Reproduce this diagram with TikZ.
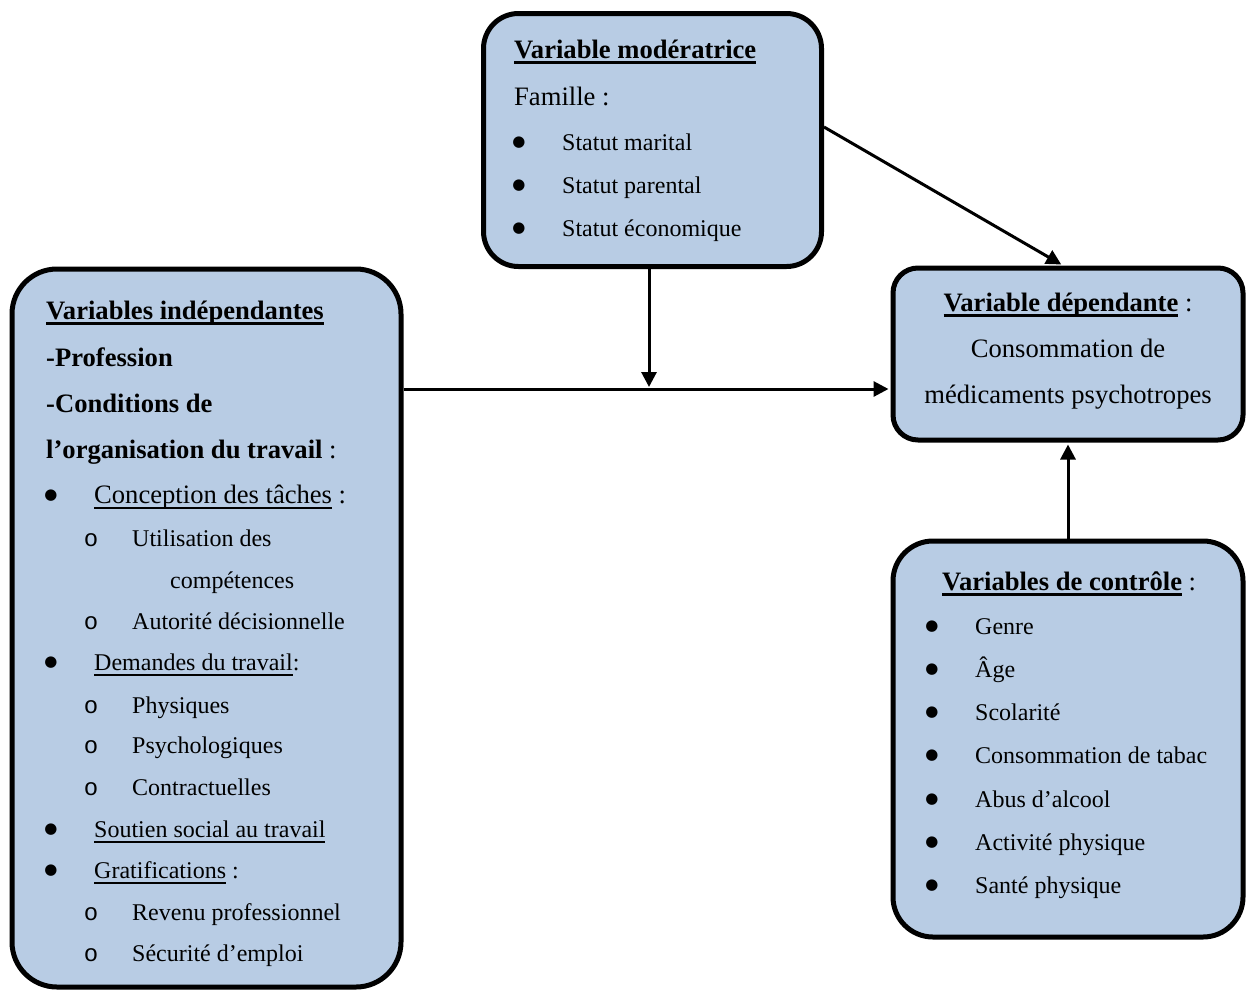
\documentclass[tikz,border=0pt]{standalone}
\usepackage{fontspec}
\setmainfont{Liberation Serif}
\setmonofont{Liberation Mono}
\newfontfamily\dotfont{DejaVu Sans}
\usetikzlibrary{arrows.meta}
\definecolor{boxblue}{RGB}{184,204,228}
\newsavebox{\undlbox}
\newcommand{\undl}[2][1.6pt]{\sbox{\undlbox}{#2}\rlap{\usebox{\undlbox}}\rule[-5.5pt]{\wd\undlbox}{#1}}

\begin{document}
\begin{tikzpicture}[
    x=1pt, y=-1pt,
    box/.style={draw, line width=5pt, fill=boxblue, inner sep=0pt},
    bigtxt/.style={anchor=base west, inner sep=0pt, font=\fontsize{26.6}{30}\selectfont},
    smalltxt/.style={anchor=base west, inner sep=0pt, font=\fontsize{24}{28}\selectfont},
    midtxt/.style={anchor=base, inner sep=0pt, font=\fontsize{26.6}{30}\selectfont},
    dot/.style={anchor=center, inner sep=0pt, yshift=7.5pt, font=\dotfont\fontsize{15}{15}\selectfont},
    circ/.style={anchor=base, inner sep=0pt, font=\fontsize{24}{28}\ttfamily},
    link/.style={line width=3pt, -{Triangle[length=15pt,width=15pt]}, shorten >=2pt}
  ]
  \useasboundingbox (0,0) rectangle (1246,991);
  % the four boxes
  \node[box, rounded corners=35pt, minimum width=338pt, minimum height=253pt] (mod) at (652.5,140) {};
  \node[box, rounded corners=45pt, minimum width=389pt, minimum height=718pt] (indep) at (206.5,628) {};
  \node[box, rounded corners=25pt, minimum width=350pt, minimum height=172pt] (dep) at (1068,354) {};
  \node[box, rounded corners=40pt, minimum width=350pt, minimum height=396pt] (ctrl) at (1068,739) {};

  % moderator
  \node[bigtxt] (modtitle) at (514,58) {\undl[3pt]{\textbf{Variable modératrice}}};
  \node[bigtxt] (modfam) at (514,105) {Famille :};
  \node[dot] (modb1) at (519,150) {●};
  \node[dot] (modb2) at (519,193) {●};
  \node[dot] (modb3) at (519,236) {●};
  \node[smalltxt] (mod1) at (562,150) {Statut marital};
  \node[smalltxt] (mod2) at (562,193) {Statut parental};
  \node[smalltxt] (mod3) at (562,236) {Statut économique};

  % independent variables
  \node[bigtxt] (indtitle) at (46,319) {\undl[3pt]{\textbf{Variables indépendantes}}};
  \node[bigtxt] (ind1) at (46,366) {\textbf{-Profession}};
  \node[bigtxt] (ind2) at (46,412) {\textbf{-Conditions de}};
  \node[bigtxt] (ind3) at (46,458) {\textbf{l’organisation du travail} :};
  \node[dot] (indb1) at (51,503) {●};
  \node[dot] (indb2) at (51,670) {●};
  \node[dot] (indb3) at (51,837) {●};
  \node[dot] (indb4) at (51,878) {●};
  \node[bigtxt] (task) at (94,503) {\undl{Conception des tâches} :};
  \node[smalltxt] (dem) at (94,670) {\undl{Demandes du travail}:};
  \node[smalltxt] (supp) at (94,837) {\undl{Soutien social au travail}};
  \node[smalltxt] (grat) at (94,878) {\undl{Gratifications} :};
  \node[circ] (indo1) at (91,546) {o};
  \node[circ] (indo2) at (91,629) {o};
  \node[circ] (indo3) at (91,713) {o};
  \node[circ] (indo4) at (91,753) {o};
  \node[circ] (indo5) at (91,795) {o};
  \node[circ] (indo6) at (91,920) {o};
  \node[circ] (indo7) at (91,961) {o};
  \node[smalltxt] (task1) at (132,546) {Utilisation des};
  \node[smalltxt] (task1b) at (170,588) {compétences};
  \node[smalltxt] (task2) at (132,629) {Autorité décisionnelle};
  \node[smalltxt] (dem1) at (132,713) {Physiques};
  \node[smalltxt] (dem2) at (132,753) {Psychologiques};
  \node[smalltxt] (dem3) at (132,795) {Contractuelles};
  \node[smalltxt] (grat1) at (132,920) {Revenu professionnel};
  \node[smalltxt] (grat2) at (132,961) {Sécurité d’emploi};

  % dependent variable
  \node[midtxt] (deptitle) at (1068,311) {\undl[3pt]{\textbf{Variable dépendante}} :};
  \node[midtxt] (dep1) at (1068,357) {Consommation de};
  \node[midtxt] (dep2) at (1068,403) {médicaments psychotropes};

  % control variables
  \node[bigtxt] (ctrltitle) at (942,590) {\undl[3pt]{\textbf{Variables de contrôle}} :};
  \node[dot] (ctrlb1) at (932,634) {●};
  \node[dot] (ctrlb2) at (932,677) {●};
  \node[dot] (ctrlb3) at (932,720) {●};
  \node[dot] (ctrlb4) at (932,763) {●};
  \node[dot] (ctrlb5) at (932,807) {●};
  \node[dot] (ctrlb6) at (932,850) {●};
  \node[dot] (ctrlb7) at (932,893) {●};
  \node[smalltxt] (ctrl1) at (975,634) {Genre};
  \node[smalltxt] (ctrl2) at (975,677) {Âge};
  \node[smalltxt] (ctrl3) at (975,720) {Scolarité};
  \node[smalltxt] (ctrl4) at (975,763) {Consommation de tabac};
  \node[smalltxt] (ctrl5) at (975,807) {Abus d’alcool};
  \node[smalltxt] (ctrl6) at (975,850) {Activité physique};
  \node[smalltxt] (ctrl7) at (975,893) {Santé physique};

  % arrows
  \coordinate (junc) at (649,389);
  \draw[link] (indep.east |- junc) -- (dep.west |- junc);
  \draw[link] (mod.south -| junc) -- (junc);
  \draw[link] ([yshift=13pt]mod.east) -- ([xshift=-5pt]dep.north);
  \draw[link] (ctrl.north) -- (dep.south);
\end{tikzpicture}
\end{document}
